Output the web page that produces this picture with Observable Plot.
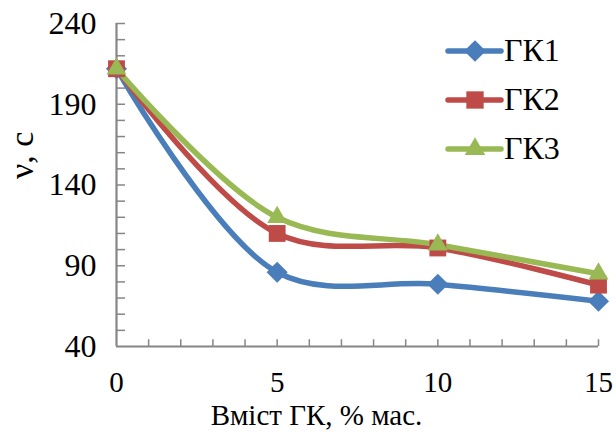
<!DOCTYPE html>
<html><head><meta charset="utf-8">
<script src="https://cdn.jsdelivr.net/npm/d3@7"></script>
<script src="https://cdn.jsdelivr.net/npm/@observablehq/plot@0.6"></script>
<style>
body{margin:0;background:#fff;font-family:'Liberation Serif','Tinos','Times New Roman','DejaVu Serif',serif;}
#wrap{position:relative;width:616px;height:437px;}
#legend{position:absolute;left:444px;top:26px;font-size:32px;color:#000;}
#legend .it{display:flex;align-items:center;height:49px;}
#legend svg{margin-right:0px}
svg text{font-family:'Liberation Serif','Tinos','Times New Roman','DejaVu Serif',serif;}
</style>
</head><body>
<div id="wrap"><div id="chart"></div><div id="legend"></div></div>
<script>
const xValues = [0, 5, 10, 15];
const seriesNames = ["ГК1", "ГК2", "ГК3"];
const gk1 = [212, 86, 78.5, 68];
const gk2 = [212, 110, 101, 78];
const gk3 = [212, 120, 103, 85];
const colors = ["#4A7EBB", "#BE4B48", "#98B954"];
const symbols = ["diamond2", "square", "triangle2"];
const yTickLabels = [40, 90, 140, 190, 240];
const xTickLabels = [0, 5, 10, 15];

const allSeries = [gk1, gk2, gk3];
const data = [];
allSeries.forEach((vals, i) => vals.forEach((v, j) => data.push({x: xValues[j], y: v, s: seriesNames[i]})));

const font = "'Liberation Serif','Tinos','Times New Roman','DejaVu Serif',serif";
const axisColor = "#868686";

const chart = Plot.plot({
  width: 616, height: 437,
  marginLeft: 116, marginRight: 18, marginTop: 23, marginBottom: 91,
  style: {fontFamily: font, background: "#fff"},
  x: {type: "linear", domain: [0, 15]},
  y: {type: "linear", domain: [40, 240]},
  color: {domain: seriesNames, range: colors},
  symbol: {domain: seriesNames, range: symbols},
  marks: [
    Plot.ruleY(d3.range(50, 241, 10), {y: d => d, x1: 0, x2: 0.28, stroke: axisColor, strokeWidth: 1.5}),
    Plot.ruleX(d3.range(1, 16, 1), {x: d => d, y1: 40, y2: 44.2, stroke: axisColor, strokeWidth: 1.5}),
    Plot.ruleX([0], {stroke: axisColor, strokeWidth: 2.2}),
    Plot.ruleY([40], {stroke: axisColor, strokeWidth: 2.2}),
    Plot.axisY(yTickLabels, {tickSize: 0, tickPadding: 20, fontSize: 32, fill: "#000", label: null}),
    Plot.axisX(xTickLabels, {tickSize: 0, tickPadding: 25, fontSize: 29, fill: "#000", label: null}),
    Plot.text(["ν, с"], {frameAnchor: "left", dx: -94, dy: -6, rotate: -90, fontSize: 34, fill: "#000"}),
    Plot.text(["Вміст ГК, % мас."], {frameAnchor: "bottom", dx: -41, dy: 78, fontSize: 29, fill: "#000"}),
    Plot.line(data, {x: "x", y: "y", z: "s", stroke: "s", strokeWidth: 5.5, curve: "catmull-rom"}),
    Plot.dot(data, {x: "x", y: "y", symbol: "s", fill: "s", r: 9.5, stroke: "none"})
  ]
});
document.getElementById("chart").appendChild(chart);

const leg = document.getElementById("legend");
seriesNames.forEach((n, i) => {
  const it = document.createElement("div");
  it.className = "it";
  const sv = d3.create("svg").attr("width", 60).attr("height", 30);
  sv.append("line").attr("x1", 4).attr("x2", 57).attr("y1", 15).attr("y2", 15)
    .attr("stroke", colors[i]).attr("stroke-width", 5.5).attr("stroke-linecap", "round");
  const sym = [d3.symbolDiamond2, d3.symbolSquare, d3.symbolTriangle2][i];
  sv.append("path").attr("d", d3.symbol(sym, 300)()).attr("transform", "translate(31,15)").attr("fill", colors[i]);
  it.appendChild(sv.node());
  const t = document.createElement("span");
  t.textContent = n;
  it.appendChild(t);
  leg.appendChild(it);
});
</script>
</body></html>
